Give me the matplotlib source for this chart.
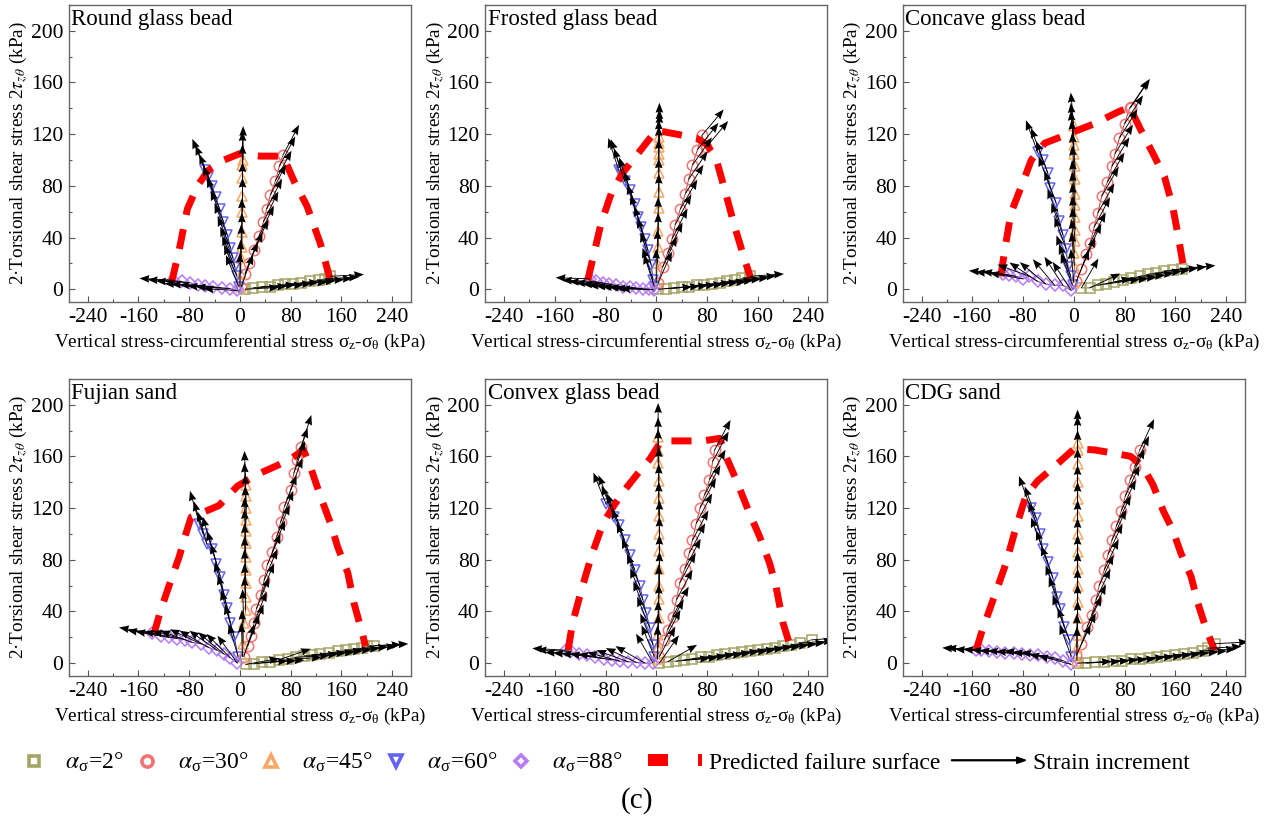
import numpy as np
import matplotlib
matplotlib.use("Agg")
import matplotlib.pyplot as plt
from matplotlib.lines import Line2D
from matplotlib.patches import FancyArrow, Patch, Rectangle
from matplotlib.legend_handler import HandlerPatch
from matplotlib.ticker import MultipleLocator

plt.rcParams["font.family"] = ["Liberation Serif", "DejaVu Serif"]
plt.rcParams["mathtext.fontset"] = "stix"
plt.rcParams["axes.unicode_minus"] = False

alphas = [2, 30, 45, 60, 88]

# ---- Round glass bead ----
round_x = {2: [8, 21, 34, 47, 60, 71, 84, 97, 111, 124, 134, 142],
           30: [2, 8, 14, 22, 30, 37, 42, 48, 56, 62, 68],
           45: [0, 1, 2, 3, 3, 4, 4, 4, 4, 5],
           60: [-2, -5, -8, -11, -15, -20, -26, -32, -38, -44, -50, -55],
           88: [-4, -16, -29, -42, -55, -66, -79, -92, -105]}
round_y = {2: [0, 1, 2, 2, 3, 4, 4, 5, 6, 7, 8, 10],
           30: [2, 12, 20, 30, 41, 52, 62, 73, 84, 95, 104],
           45: [2, 12, 24, 33, 44, 60, 72, 86, 96, 100],
           60: [2, 10, 17, 24, 32, 42, 52, 62, 71, 80, 87, 92],
           88: [-1, 0.5, 1, 2, 2.5, 3, 5, 6, 7]}
round_ang = {2: 3, 30: [70, 68, 66, 65, 64, 64, 63, 63, 62, 62, 62],
             45: 90, 60: 112, 88: 177}
round_fail_x = [-108, -96, -83, -67, -50, -25, 0, 32, 68, 85, 106, 127, 142]
round_fail_y = [5, 30, 62, 80, 92, 100, 105, 103, 103, 84, 64, 35, 8]

# ---- Frosted glass bead ----
frosted_x = {2: [3, 15, 28, 40, 52, 64, 76, 88, 100, 112, 124, 136, 148],
             30: [3, 10, 18, 25, 30, 38, 46, 51, 57, 65, 72, 79],
             45: [0, 2, 3, 3, 4, 4, 4, 4, 4, 5, 5, 5],
             60: [-3, -5, -8, -13, -18, -24, -29, -34, -42, -50, -55, -59],
             88: [-3, -11, -21, -32, -42, -53, -63, -74, -84, -95, -105]}
frosted_y = {2: [0, 0.5, 1, 1.5, 2, 3, 3.5, 4, 5, 6, 7, 8.5, 10],
             30: [5, 17, 28, 39, 50, 62, 74, 85, 96, 108, 119, 110],
             45: [5, 20, 33, 45, 63, 75, 90, 100, 105, 110, 113, 118],
             60: [2, 7, 19, 30, 39, 48, 56, 66, 77, 84, 91, 92],
             88: [-0.5, 0, 0.5, 1, 1.5, 2, 3, 4, 5, 6, 8]}
frosted_ang = {2: 4, 30: [66, 65, 64, 63, 62, 60, 58, 56, 55, 52, 50, 50],
               45: 90, 60: 108, 88: 178}
frosted_fail_x = [-108, -97, -87, -71, -53, -24, 0, 32, 63, 80, 95, 108, 124, 140, 150]
frosted_fail_y = [7, 30, 51, 74, 90, 108, 123, 120, 117, 112, 100, 77, 48, 22, 7]

# ---- Concave glass bead ----
concave_x = {2: [12, 25, 38, 51, 64, 77, 90, 104, 117, 130, 143, 156, 170],
             30: [4, 12, 20, 26, 32, 38, 44, 53, 60, 65, 72, 80, 88, 90],
             45: [0, 1, 1, 2, 2, 2, 2, 2, 2, 2, 1, 0, 0, 0],
             60: [-2, -5, -9, -12, -17, -23, -28, -37, -41, -49, -57],
             88: [-4, -17, -30, -44, -57, -70, -80, -91, -102, -112]}
concave_y = {2: [1, 1, 3, 4, 5.5, 7, 8.5, 10, 11.5, 12.5, 14, 15, 16],
             30: [6, 16, 27, 36, 48, 59, 72, 83, 95, 105, 117, 128, 140, 141],
             45: [5, 18, 28, 37, 46, 56, 65, 74, 85, 95, 105, 112, 118, 126],
             60: [3, 10, 17, 31, 42, 53, 67, 78, 90, 100, 106],
             88: [-1, 3, 3, 4, 6, 10, 8, 10, 11, 12]}
concave_ang = {2: [60, 25, 12, 8, 6, 5, 5, 5, 5, 5, 5, 5, 5],
               30: [68, 66, 64, 63, 62, 61, 60, 60, 59, 58, 58, 57, 56, 56],
               45: 95, 60: 110,
               88: [123, 123, 130, 140, 146, 160, 170, 172, 175, 175]}
concave_fail_x = [-115, -109, -99, -80, -67, -46, -25, 1, 32, 69, 88, 104, 127, 143, 156, 164, 172]
concave_fail_y = [10, 30, 59, 83, 100, 113, 117, 122, 128, 137, 141, 125, 103, 87, 64, 43, 20]

# ---- Fujian sand ----
fujian_x = {2: [9, 22, 35, 48, 61, 75, 88, 101, 114, 127, 140, 154, 167, 180, 193, 201, 212],
            30: [6, 12, 18, 22, 26, 33, 38, 43, 51, 58, 64, 70, 80, 85, 90, 96],
            45: [4, 5, 6, 9, 9, 9, 9, 9, 9, 9, 10, 10, 9, 9],
            60: [-3, -9, -15, -20, -25, -31, -37, -44, -52, -58, -64],
            88: [-4, -15, -25, -36, -49, -62, -75, -86, -99, -112, -125, -138]}
fujian_y = {2: [-1, -0.5, 0.5, 1, 2.5, 3, 4.5, 5.5, 6.5, 7, 8, 9, 10, 11, 11.5, 13, 13.5],
            30: [5, 13, 21, 31, 42, 53, 64, 76, 86, 98, 109, 121, 134, 147, 157, 167],
            45: [5, 15, 31, 41, 51, 62, 72, 82, 93, 102, 111, 120, 129, 138],
            60: [5, 20, 31, 43, 53, 67, 77, 88, 92, 100, 108],
            88: [0, 4, 7, 10, 12, 15, 16, 18, 19, 20, 21, 23]}
fujian_ang = {2: [10, 5, 3, 3, 19, 3, 3, 3, 3, 3, 3, 3, 3, 3, 3, 3, 3],
              30: [72, 70, 69, 68, 68, 67, 67, 67, 68, 68, 68, 69, 70, 71, 72, 72],
              45: 92, 60: 106,
              88: [126, 135, 140, 145, 150, 155, 160, 165, 168, 170, 170, 170]}
fujian_fail_x = [-136, -125, -109, -96, -86, -77, -52, -33, -4, 27, 59, 80, 100, 109, 127, 143, 154, 170, 180, 193, 198]
fujian_fail_y = [22, 41, 64, 82, 99, 113, 118, 122, 137, 146, 153, 158, 165, 155, 129, 108, 90, 70, 46, 23, 13]

# ---- Convex glass bead ----
convex_x = {2: [5, 18, 31, 44, 57, 70, 83, 96, 109, 122, 135, 148, 161, 174, 187, 200, 213, 226, 245],
            30: [5, 13, 18, 26, 32, 37, 45, 52, 57, 63, 69, 76, 84, 89, 92],
            45: [2, 3, 3, 4, 4, 5, 5, 5, 5, 4, 4, 4, 3, 3, 3],
            60: [-3, -5, -10, -16, -21, -26, -34, -42, -50, -58, -66, -71, -79],
            88: [-5, -18, -31, -44, -57, -70, -83, -96, -109, -122, -135, -142]}
convex_y = {2: [0, 1, 1.5, 2.5, 3.5, 4.5, 5, 6, 7, 7.5, 8.5, 9.5, 10.5, 11, 12, 13, 14, 15.5, 18],
            30: [5, 18, 26, 36, 49, 62, 73, 85, 95, 108, 120, 130, 142, 156, 165],
            45: [3, 12, 22, 35, 50, 60, 73, 87, 100, 114, 128, 141, 155, 164, 175],
            60: [5, 14, 27, 39, 49, 60, 72, 84, 95, 107, 113, 121, 123],
            88: [0, 0, 0.5, 1, 1.5, 2.5, 3.5, 5, 6, 7, 9, 10]}
convex_ang = {2: [55, 30, 5, 4, 4, 4, 4, 4, 4, 4, 4, 4, 4, 4, 4, 4, 4, 4, 4],
              30: 62, 45: 90, 60: 112,
              88: [120, 150, 155, 160, 165, 170, 172, 175, 176, 177, 177, 177]}
convex_fail_x = [-139, -132, -121, -110, -100, -84, -68, -53, -32, -10, 8, 37, 74, 100, 110, 126, 147, 163, 179, 189, 200, 210]
convex_fail_y = [10, 31, 51, 70, 86, 108, 121, 132, 145, 158, 172, 172, 172, 174, 160, 142, 116, 98, 77, 59, 31, 15]

# ---- CDG sand ----
cdg_x = {2: [6, 20, 34, 48, 62, 76, 90, 104, 118, 132, 146, 160, 174, 188, 202, 211, 222],
         30: [4, 12, 21, 28, 35, 40, 48, 54, 60, 67, 75, 81, 89, 96, 104],
         45: [5, 5, 6, 6, 6, 6, 6, 6, 6, 6, 6, 6, 6, 6, 6],
         60: [-4, -7, -15, -21, -26, -33, -41, -49, -53, -59, -68],
         88: [-4, -17, -30, -43, -56, -69, -82, -95, -108, -121, -134, -147, -154]}
cdg_y = {2: [0, 0, 0.5, 1, 1.5, 2, 3, 3.5, 4, 5, 5.5, 6.5, 7, 8, 9.5, 11.5, 15],
         30: [6, 15, 28, 37, 49, 60, 72, 84, 95, 106, 118, 129, 142, 152, 165],
         45: [2, 12, 22, 35, 47, 60, 73, 86, 100, 114, 127, 140, 154, 165, 170],
         60: [5, 18, 28, 42, 51, 66, 78, 88, 100, 112, 120],
         88: [-1, 2, 4, 5, 6, 6.5, 7, 7.5, 8, 8.5, 9, 10, 10]}
cdg_ang = {2: 3, 30: 65, 45: 90, 60: 110,
           88: [165, 170, 170, 172, 172, 174, 174, 175, 175, 175, 176, 176, 176]}
cdg_fail_x = [-154, -144, -133, -120, -107, -94, -81, -75, -57, -31, 1, 33, 69, 90, 109, 125, 141, 156, 169, 185, 196, 209, 222]
cdg_fail_y = [10, 26, 41, 59, 77, 100, 121, 130, 141, 152, 166, 165, 162, 160, 152, 138, 118, 103, 85, 67, 46, 26, 10]

panels = [
    ("Round glass bead", round_x, round_y, round_ang, round_fail_x, round_fail_y),
    ("Frosted glass bead", frosted_x, frosted_y, frosted_ang, frosted_fail_x, frosted_fail_y),
    ("Concave glass bead", concave_x, concave_y, concave_ang, concave_fail_x, concave_fail_y),
    ("Fujian sand", fujian_x, fujian_y, fujian_ang, fujian_fail_x, fujian_fail_y),
    ("Convex glass bead", convex_x, convex_y, convex_ang, convex_fail_x, convex_fail_y),
    ("CDG sand", cdg_x, cdg_y, cdg_ang, cdg_fail_x, cdg_fail_y),
]

styles = {2: ("s", "#a5a565", "#6b6b30", 6.5),
          30: ("o", "#f27474", "#b03838", 7.5),
          45: ("^", "#f6a866", "#a86a28", 7.5),
          60: ("v", "#6464f2", "#23238c", 7.5),
          88: ("D", "#b57cf5", "#5c2c92", 6.0)}

arrow_len = 0.34  # inches

fig = plt.figure(figsize=(12.73, 8.30), dpi=100)
lefts = [0.054, 0.381, 0.709]
bottoms = [0.636, 0.1855]

for i, (name, px, py, pang, fx, fy) in enumerate(panels):
    ax = fig.add_axes([lefts[i % 3], bottoms[i // 3], 0.269, 0.358])
    for a in alphas:
        m, c, lc, ms = styles[a]
        x = np.array(px[a], float)
        y = np.array(py[a], float)
        ax.plot(x, y, color=lc, lw=0.7, zorder=2)
        ax.plot(x, y, ls="none", marker=m, ms=ms, mfc="none", mec=c, mew=1.1, zorder=3)
        ang = np.broadcast_to(np.array(pang[a], float), x.shape)
        ax.quiver(x, y, np.full(x.shape, arrow_len), np.zeros(x.shape), angles=ang,
                  scale_units="inches", scale=1, units="inches", width=0.009,
                  headwidth=8.5, headlength=11, headaxislength=10, color="k", zorder=5)
    ax.plot(fx, fy, color="#ff0000", lw=5, ls=(0, (2.9, 2.1)), zorder=4)

    ax.set_xlim(-270, 270)
    ax.set_ylim(-10, 220)
    ax.xaxis.set_major_locator(MultipleLocator(80))
    ax.xaxis.set_minor_locator(MultipleLocator(40))
    ax.yaxis.set_major_locator(MultipleLocator(40))
    ax.yaxis.set_minor_locator(MultipleLocator(20))
    ax.tick_params(which="both", direction="in", labelsize=15.5, color="#555555", width=0.8)
    ax.tick_params(which="major", length=4, pad=4)
    ax.tick_params(which="minor", length=2.5)
    for s in ax.spines.values():
        s.set_color("#666666")
        s.set_linewidth(1.0)
    ax.text(0.008, 0.985, name, transform=ax.transAxes, ha="left", va="top", fontsize=16.5)
    ax.set_xlabel(r"Vertical stress-circumferential stress $\mathregular{σ_z}$-$\mathregular{σ_θ}$ (kPa)",
                  fontsize=13.8, labelpad=4)
    ax.set_ylabel(r"2·Torsional shear stress 2$\tau_{z\theta}$ (kPa)", fontsize=13.8, labelpad=1)


class ArrowHandler(HandlerPatch):
    def create_artists(self, legend, orig_handle, xdescent, ydescent, width, height, fontsize, trans):
        p = FancyArrow(-xdescent, height / 2 - ydescent, width, 0, width=0.6, head_width=4.5,
                       head_length=6.5, length_includes_head=True, color="k")
        p.set_transform(trans)
        return [p]


class DashHandler(HandlerPatch):
    # one full red dash and the start of the next one
    def create_artists(self, legend, orig_handle, xdescent, ydescent, width, height, fontsize, trans):
        h = 8.6
        y0 = height / 2 - ydescent - h / 2
        r1 = Rectangle((-xdescent + 0.27 * width, y0), 0.27 * width, h, color="#ff0000", lw=0)
        r2 = Rectangle((-xdescent + 0.95 * width, y0), 0.05 * width, h, color="#ff0000", lw=0)
        for r in (r1, r2):
            r.set_transform(trans)
        return [r1, r2]


marker_handles = [Line2D([], [], ls="none", marker=styles[a][0], ms=styles[a][3] + 0.5, mfc="none",
                         mec=styles[a][1], mew=2.6) for a in alphas]
marker_labels = [r"$\alpha_{\mathregular{σ}}$=%d°" % a for a in alphas]
fig.legend(marker_handles, marker_labels, loc="center left", bbox_to_anchor=(0.0023, 0.081),
           ncol=5, frameon=False, fontsize=17, handlelength=0.8, handletextpad=0.91,
           columnspacing=0.6, borderpad=0.4)

fail_handle = Patch()
arrow_handle = Patch()
fig.legend([fail_handle, arrow_handle], ["Predicted failure surface", "Strain increment"],
           loc="center left", bbox_to_anchor=(0.4765, 0.081), ncol=2, frameon=False, fontsize=17,
           handlelength=3.14, handletextpad=0.3, columnspacing=0.47, borderpad=0.4,
           handler_map={arrow_handle: ArrowHandler(), fail_handle: DashHandler()})

fig.text(0.5, 0.036, "(c)", ha="center", va="center", fontsize=21)

fig.savefig("out.png", dpi=100)
